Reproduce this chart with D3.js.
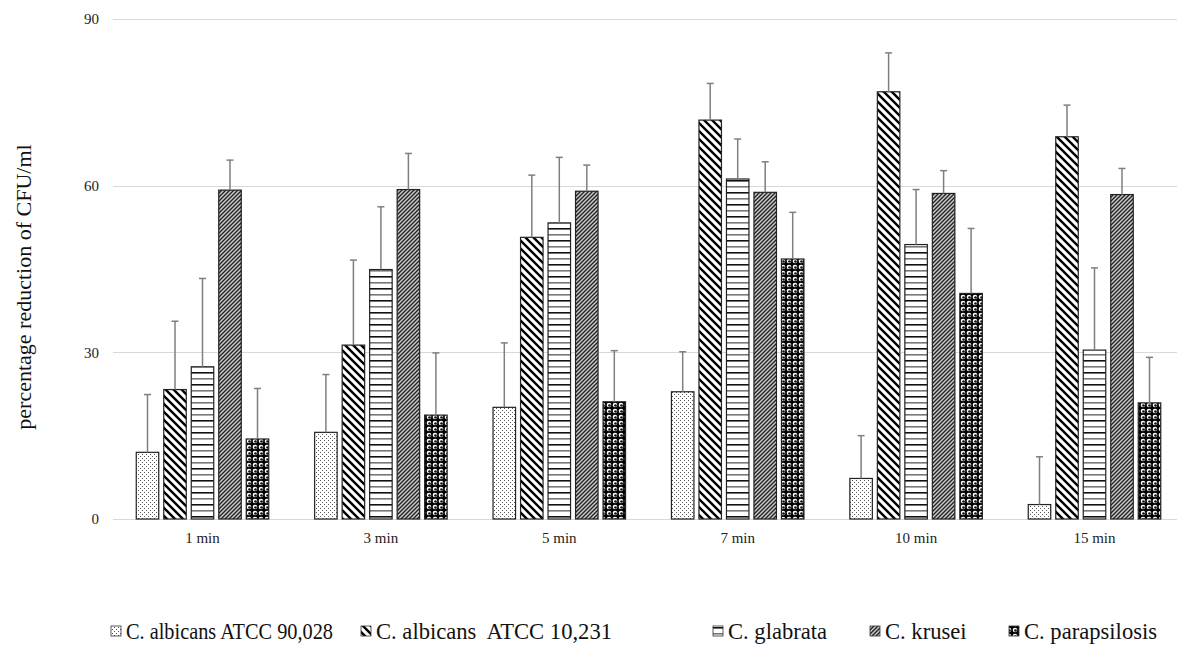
<!DOCTYPE html>
<html>
<head>
<meta charset="utf-8">
<script src="https://cdn.jsdelivr.net/npm/d3@7"></script>
<style>
  html, body { margin: 0; padding: 0; background: #fff; }
  svg { display: block; font-family: "Liberation Serif", "Times New Roman", serif; }
</style>
</head>
<body>
<svg id="chart" width="1177" height="655"></svg>
<script>
// Exposure times (x categories)
const times = ["1 min", "3 min", "5 min", "7 min", "10 min", "15 min"];
// Strains (series)
const strains = ["C. albicans ATCC 90,028", "C. albicans  ATCC 10,231", "C. glabrata", "C. krusei", "C. parapsilosis"];
// Mean percentage reduction of CFU/ml per strain, one value per exposure time
const albicans90028 = [12.0, 15.6, 20.1, 22.9, 7.3, 2.6];
const albicans10231 = [23.3, 31.3, 50.7, 71.8, 76.9, 68.8];
const glabrata      = [27.4, 44.9, 53.3, 61.2, 49.4, 30.4];
const krusei        = [59.2, 59.3, 59.0, 58.8, 58.6, 58.4];
const parapsilosis  = [14.4, 18.7, 21.1, 46.8, 40.6, 20.9];
// Standard deviations (upper error bars)
const sdAlbicans90028 = [10.4, 10.4, 11.6, 7.2, 7.7, 8.6];
const sdAlbicans10231 = [12.3, 15.3, 11.2, 6.6, 7.0, 5.7];
const sdGlabrata      = [15.9, 11.3, 11.8, 7.2, 9.9, 14.8];
const sdKrusei        = [5.4, 6.5, 4.7, 5.5, 4.1, 4.7];
const sdParapsilosis  = [9.1, 11.2, 9.2, 8.4, 11.7, 8.2];
// Y axis ticks
const yTicks = [0, 30, 60, 90];

const means = [albicans90028, albicans10231, glabrata, krusei, parapsilosis];
const sds = [sdAlbicans90028, sdAlbicans10231, sdGlabrata, sdKrusei, sdParapsilosis];
const patternIds = ["pDots", "pWideDown", "pHoriz", "pDarkUp", "pSphere"];

const svg = d3.select("#chart");
const defs = svg.append("defs");

// --- fill patterns ---
{
  const p = defs.append("pattern").attr("id", "pDots").attr("patternUnits", "userSpaceOnUse")
    .attr("width", 4).attr("height", 4);
  p.append("rect").attr("width", 4).attr("height", 4).attr("fill", "#fff");
  p.append("rect").attr("x", 0).attr("y", 0).attr("width", 1).attr("height", 1).attr("fill", "#555");
  p.append("rect").attr("x", 2).attr("y", 2).attr("width", 1).attr("height", 1).attr("fill", "#555");
}
{
  const s = 8;
  const p = defs.append("pattern").attr("id", "pWideDown").attr("patternUnits", "userSpaceOnUse")
    .attr("width", s).attr("height", s);
  p.append("rect").attr("width", s).attr("height", s).attr("fill", "#fff");
  p.append("path").attr("d", `M-2,-2L${s + 2},${s + 2}M${-s / 2 - 2},${s / 2 - 2}L${s / 2 + 2},${s + s / 2 + 2}M${s / 2 - 2},${-s / 2 - 2}L${s + s / 2 + 2},${s / 2 + 2}`)
    .attr("stroke", "#000").attr("stroke-width", 2.4);
}
{
  const p = defs.append("pattern").attr("id", "pHoriz").attr("patternUnits", "userSpaceOnUse")
    .attr("width", 6).attr("height", 12);
  p.append("rect").attr("width", 6).attr("height", 12).attr("fill", "#fff");
  p.append("rect").attr("y", 0).attr("width", 6).attr("height", 1.6).attr("fill", "#111");
  p.append("rect").attr("y", 6).attr("width", 6).attr("height", 1.6).attr("fill", "#777");
}
{
  const s = 4;
  const p = defs.append("pattern").attr("id", "pDarkUp").attr("patternUnits", "userSpaceOnUse")
    .attr("width", s).attr("height", s);
  p.append("rect").attr("width", s).attr("height", s).attr("fill", "#ccc");
  p.append("path").attr("d", `M-1,${s + 1}L${s + 1},-1M-1,1L1,-1M${s - 1},${s + 1}L${s + 1},${s - 1}`)
    .attr("stroke", "#222").attr("stroke-width", 1.4);
}
{
  const s = 6;
  const p = defs.append("pattern").attr("id", "pSphere").attr("patternUnits", "userSpaceOnUse")
    .attr("width", s).attr("height", s);
  p.append("rect").attr("width", s).attr("height", s).attr("fill", "#000");
  p.append("circle").attr("cx", s / 2).attr("cy", s / 2).attr("r", 2.3).attr("fill", "#fff");
  p.append("circle").attr("cx", s / 2 + 0.5).attr("cy", s / 2 + 0.5).attr("r", 1.35).attr("fill", "#111");
}

// --- scales ---
const y = d3.scaleLinear().domain([0, 90]).range([519, 19]);
const x0 = d3.scaleBand().domain(times).range([113.3, 1183.7]).padding(0);
const groupWidth = 132.5;
const x1 = d3.scaleBand().domain(d3.range(strains.length)).range([0, groupWidth])
  .paddingInner(5 / 27.5).paddingOuter(0);
const groupOffset = (x0.bandwidth() - groupWidth) / 2;

// --- gridlines and baseline ---
svg.append("g").selectAll("line").data(yTicks).join("line")
  .attr("x1", 113).attr("x2", 1177)
  .attr("y1", d => Math.round(y(d)) + 0.5).attr("y2", d => Math.round(y(d)) + 0.5)
  .attr("stroke", "#d9d9d9").attr("stroke-width", 1);

// y tick labels
const yAxis = d3.axisLeft(y).tickValues(yTicks).tickSize(0).tickPadding(0);
const gy = svg.append("g").attr("transform", "translate(99,0)").call(yAxis);
gy.select(".domain").remove();
gy.selectAll("text").attr("font-family", "Liberation Serif, serif").attr("font-size", 15).attr("fill", "#222");

// x tick labels
const xAxis = d3.axisBottom(x0).tickSize(0).tickPadding(0);
const gx = svg.append("g").attr("transform", "translate(0,532)").call(xAxis);
gx.select(".domain").remove();
gx.selectAll("text").attr("font-family", "Liberation Serif, serif").attr("font-size", 15).attr("fill", "#222");

// --- bars and error bars ---
const rows = [];
times.forEach((t, ti) => {
  strains.forEach((s, si) => {
    rows.push({ t, si, v: means[si][ti], sd: sds[si][ti] });
  });
});

const bx = d => x0(d.t) + groupOffset + x1(d.si);

svg.append("g").selectAll("rect").data(rows).join("rect")
  .attr("x", d => bx(d))
  .attr("y", d => y(d.v))
  .attr("width", x1.bandwidth())
  .attr("height", d => y(0) - y(d.v))
  .attr("fill", d => `url(#${patternIds[d.si]})`)
  .attr("stroke", "#222").attr("stroke-width", 1.2);

const eb = svg.append("g").attr("stroke", "#7f7f7f").attr("stroke-width", 1.5);
eb.selectAll("line.v").data(rows).join("line").attr("class", "v")
  .attr("x1", d => bx(d) + x1.bandwidth() / 2).attr("x2", d => bx(d) + x1.bandwidth() / 2)
  .attr("y1", d => y(d.v)).attr("y2", d => y(d.v + d.sd));
eb.selectAll("line.c").data(rows).join("line").attr("class", "c")
  .attr("x1", d => bx(d) + x1.bandwidth() / 2 - 3.5).attr("x2", d => bx(d) + x1.bandwidth() / 2 + 3.5)
  .attr("y1", d => y(d.v + d.sd)).attr("y2", d => y(d.v + d.sd));

// --- y axis title ---
svg.append("text")
  .attr("transform", "translate(31,287) rotate(-90)")
  .attr("text-anchor", "middle")
  .attr("font-size", 22).attr("fill", "#111")
  .text("percentage reduction of CFU/ml");

// --- legend ---
const legendX = [126, 376, 728, 885, 1024];
const legend = svg.append("g").selectAll("g").data(strains).join("g")
  .attr("transform", (d, i) => `translate(${legendX[i]},639)`);
legend.append("rect")
  .attr("x", -15).attr("y", -13).attr("width", 10).attr("height", 10)
  .attr("fill", (d, i) => `url(#${patternIds[i]})`)
  .attr("stroke", "#333").attr("stroke-width", 0.8);
legend.append("text")
  .attr("font-size", 22.6).attr("fill", "#111")
  .style("white-space", "pre")
  .attr("textLength", (d, i) => i === 0 ? 207 : null)
  .attr("lengthAdjust", "spacingAndGlyphs")
  .text(d => d);
</script>
</body>
</html>
